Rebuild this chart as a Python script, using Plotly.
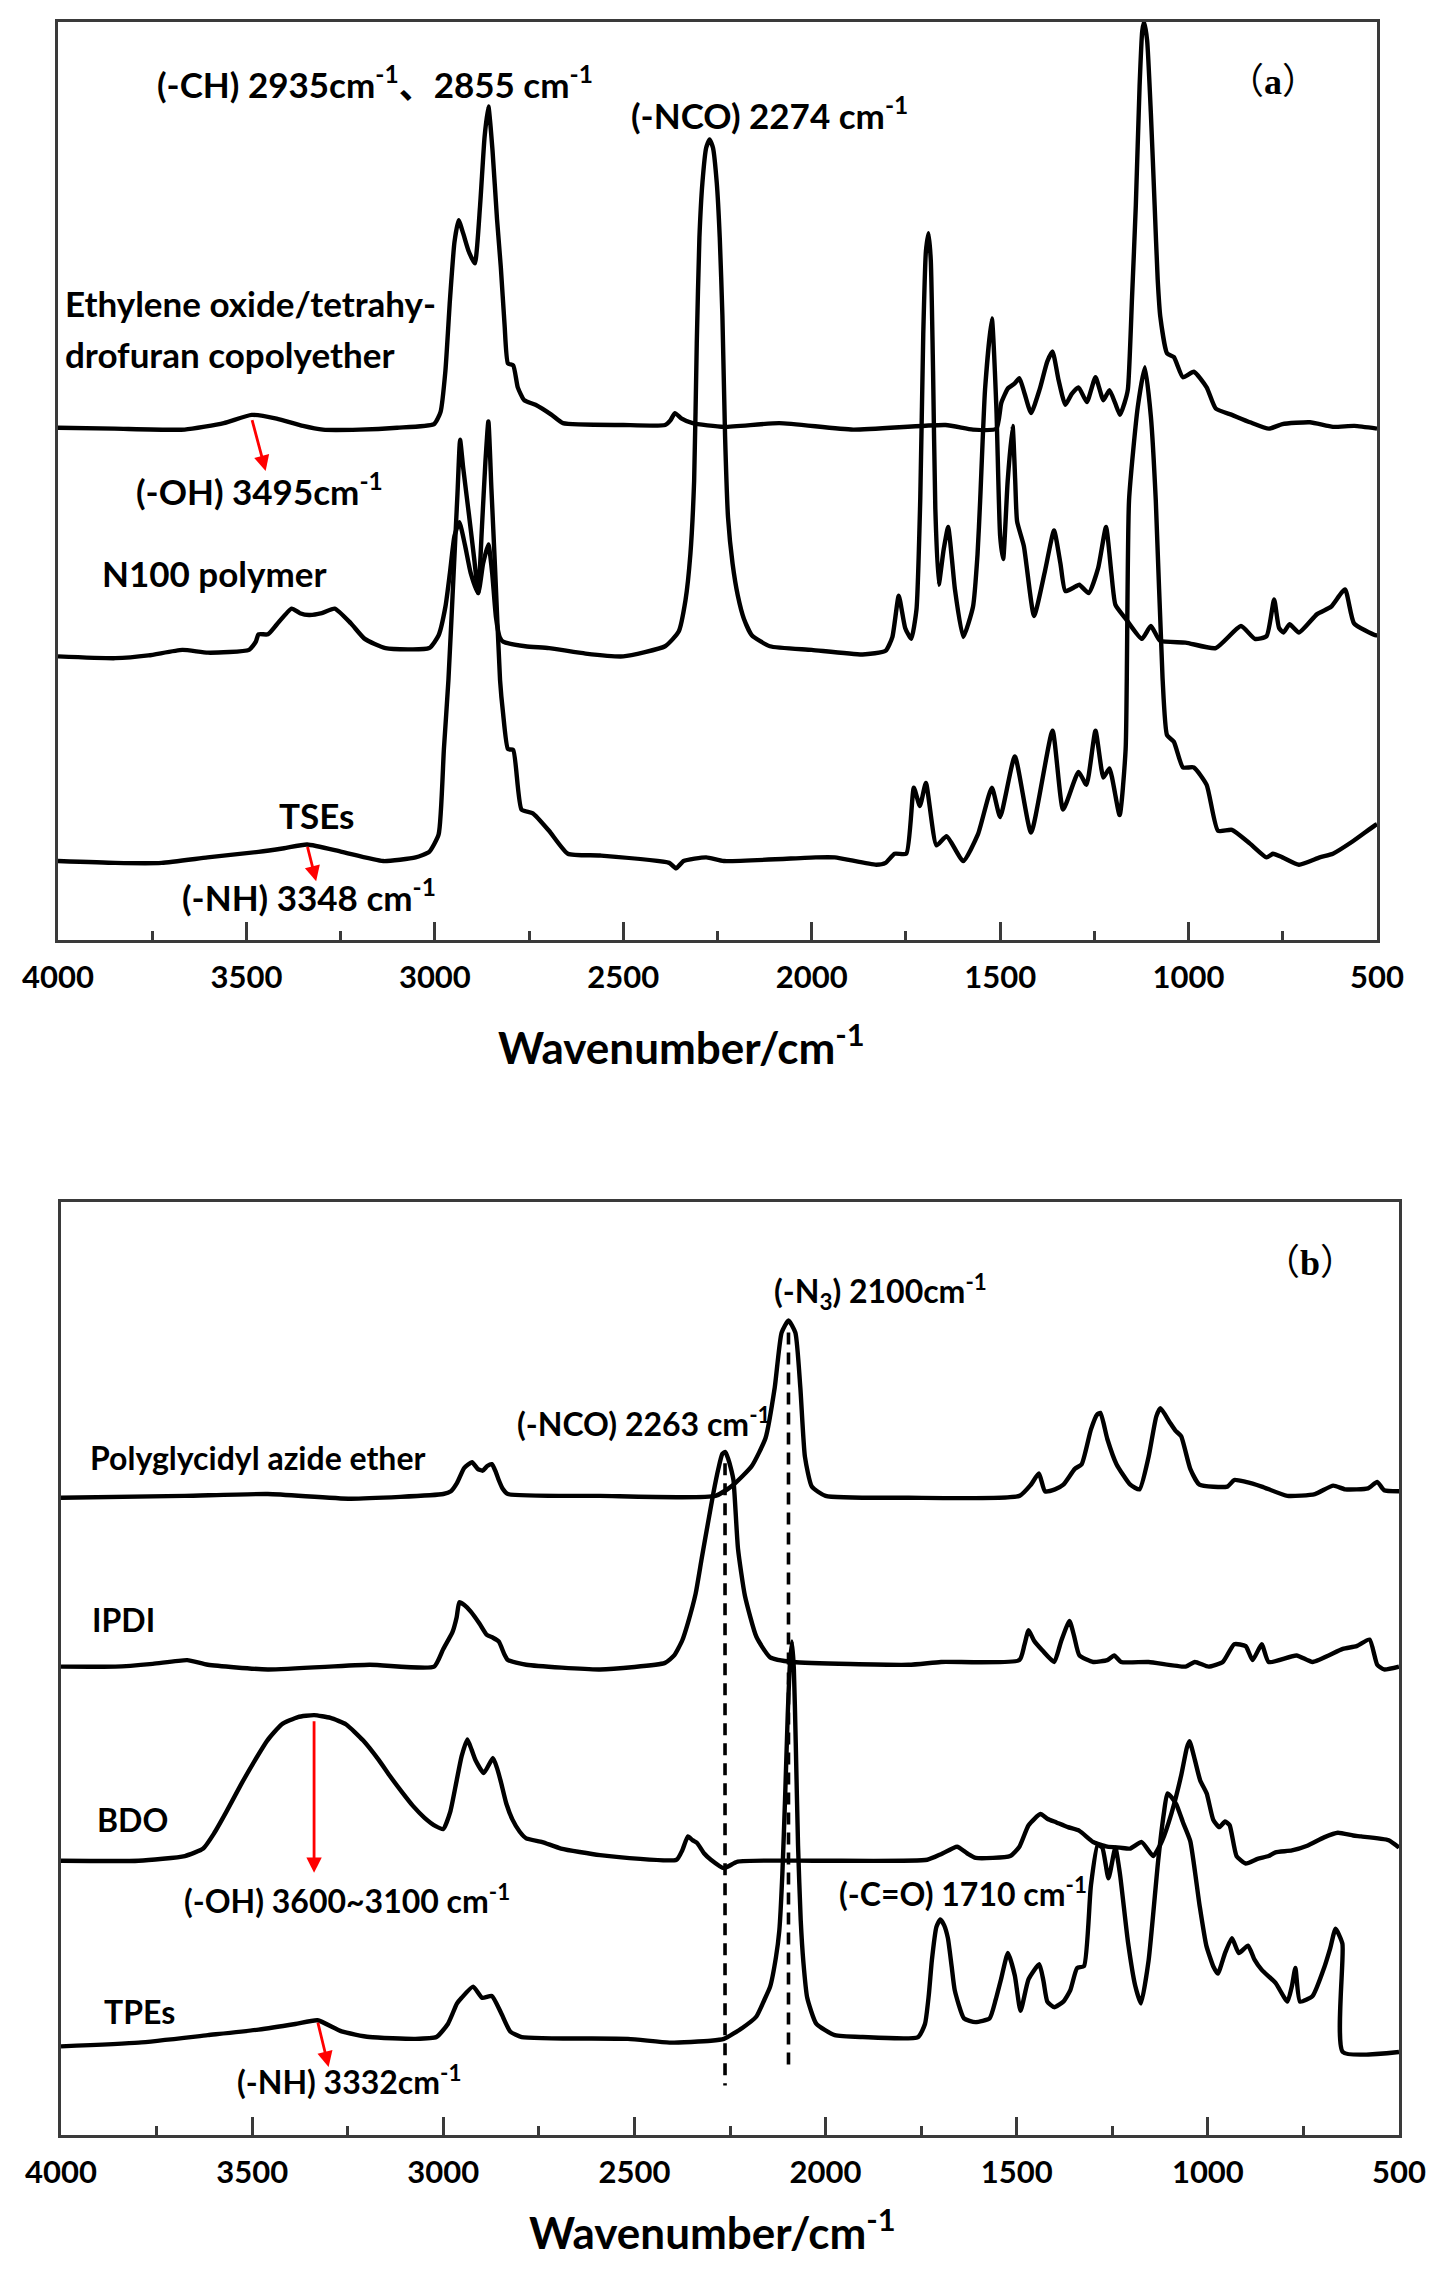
import plotly.graph_objects as go

# page body has an 8px margin: the figure is drawn inside it
PAGE_W, PAGE_H, OFF = 1448, 2284, 8
W, H = PAGE_W - 2 * OFF, PAGE_H - 2 * OFF

# ---------------- Panel (a) data : wavenumber (cm-1) and offset intensity (a.u.) ----------------
copoly_wn = [4000, 3850, 3664, 3560, 3486, 3420, 3350, 3297, 3200, 3100,
             3002, 2985, 2972, 2960, 2948, 2937, 2925, 2910, 2894, 2880,
             2868, 2858, 2847, 2835, 2825, 2815, 2806, 2792, 2780, 2763,
             2733, 2690, 2660, 2500, 2389, 2375, 2363, 2345, 2316, 2233,
             2086, 1890, 1645, 1572, 1510, 1497, 1479, 1462, 1449, 1435,
             1418, 1395, 1375, 1361, 1345, 1327, 1310, 1292, 1270, 1247,
             1226, 1210, 1195, 1182, 1170, 1161, 1150, 1140, 1130, 1123,
             1118, 1110, 1100, 1090, 1082, 1075, 1057, 1039, 1015, 986,
             952, 928, 885, 837, 787, 751, 678, 617, 560, 500]
copoly_y = [55.8, 55.7, 55.6, 56.3, 57.2, 56.8, 56.0, 55.6, 55.6, 55.8,
            56.2, 57.5, 62.0, 69.7, 76.0, 78.4, 77.0, 75.0, 73.7, 80.0,
            87.5, 90.8, 86.0, 78.5, 73.3, 67.0, 62.8, 62.6, 60.2, 58.8,
            58.3, 57.2, 56.3, 56.1, 56.1, 56.6, 57.4, 56.8, 56.3, 55.9,
            56.3, 55.6, 56.1, 55.6, 55.7, 58.5, 60.1, 60.6, 61.2, 59.5,
            57.4, 60.0, 63.0, 64.1, 61.0, 58.3, 59.5, 60.2, 58.6, 61.3,
            58.8, 59.9, 58.5, 57.2, 58.5, 60.0, 70.0, 80.0, 93.0, 99.0,
            100.0, 98.0, 90.0, 80.0, 72.0, 67.9, 63.9, 63.5, 61.3, 61.9,
            60.2, 57.9, 57.2, 56.4, 55.7, 56.2, 56.4, 55.9, 56.0, 55.7]

n100_wn = [4000, 3848, 3760, 3670, 3602, 3493, 3475, 3468, 3443, 3419,
           3380, 3358, 3334, 3300, 3266, 3223, 3186, 3131, 3015, 2990,
           2972, 2960, 2948, 2935, 2920, 2905, 2885, 2872, 2858, 2848,
           2838, 2828, 2819, 2760, 2697, 2600, 2500, 2389, 2353, 2335,
           2322, 2312, 2305, 2298, 2290, 2280, 2271, 2262, 2252, 2244,
           2237, 2230, 2222, 2210, 2196, 2180, 2159, 2111, 2000, 1865,
           1804, 1786, 1769, 1752, 1736, 1722, 1712, 1704, 1697, 1690,
           1684, 1678, 1672, 1663, 1650, 1638, 1628, 1620, 1598, 1572,
           1560, 1553, 1540, 1522, 1510, 1500, 1492, 1480, 1467, 1460,
           1455, 1437, 1410, 1381, 1357, 1340, 1327, 1300, 1290, 1265,
           1240, 1219, 1205, 1194, 1167, 1124, 1100, 1076, 1008, 928,
           861, 824, 793, 773, 760, 748, 732, 707, 659, 622,
           585, 561, 505, 500]
n100_y = [30.9, 30.7, 31.0, 31.6, 31.3, 31.6, 32.5, 33.3, 33.3, 34.4,
          36.1, 35.6, 35.4, 35.6, 36.1, 34.5, 32.8, 31.8, 31.8, 33.2,
          36.3, 40.0, 44.0, 45.5, 43.0, 40.0, 37.8, 41.0, 43.1, 40.0,
          35.2, 33.0, 32.5, 32.0, 31.8, 31.2, 30.9, 32.0, 33.6, 37.0,
          42.0, 50.0, 65.0, 76.5, 82.5, 86.3, 87.2, 86.3, 82.5, 76.5,
          68.0, 55.0, 46.0, 41.0, 37.5, 35.0, 33.2, 32.0, 31.6, 31.1,
          31.5, 33.0, 37.5, 34.0, 32.8, 36.0, 48.0, 66.0, 75.0, 77.0,
          74.0, 62.0, 47.0, 38.7, 42.5, 45.0, 41.5, 38.2, 33.0, 36.3,
          42.0, 47.9, 60.0, 67.7, 58.0, 44.0, 41.5, 50.0, 56.0, 50.0,
          45.6, 42.9, 35.3, 40.2, 44.6, 41.0, 38.0, 38.5, 38.7, 37.8,
          40.5, 45.0, 40.0, 36.5, 35.0, 32.8, 34.2, 32.6, 32.4, 31.8,
          34.2, 32.8, 33.1, 37.1, 34.0, 33.5, 34.4, 33.5, 35.5, 36.3,
          38.2, 34.5, 33.2, 33.2]

tses_wn = [4000, 3848, 3725, 3603, 3468, 3400, 3339, 3247, 3137, 3051,
           3015, 2990, 2976, 2964, 2950, 2940, 2933, 2925, 2910, 2895,
           2885, 2875, 2866, 2858, 2850, 2840, 2827, 2819, 2806, 2792,
           2770, 2740, 2697, 2647, 2562, 2378, 2360, 2340, 2280, 2233,
           1989, 1939, 1829, 1804, 1780, 1749, 1729, 1713, 1697, 1669,
           1642, 1598, 1559, 1522, 1500, 1461, 1418, 1361, 1333, 1292,
           1271, 1247, 1226, 1210, 1183, 1167, 1158, 1135, 1116, 1100,
           1087, 1069, 1057, 1039, 1015, 986, 952, 922, 885, 837,
           793, 776, 751, 707, 652, 617, 566, 505, 500]
tses_y = [8.6, 8.4, 8.4, 9.0, 9.6, 10.0, 10.4, 9.6, 8.6, 9.0,
          9.6, 11.5, 20.8, 28.3, 40.1, 48.6, 54.5, 51.5, 46.5, 41.3,
          37.8, 45.0, 52.0, 56.5, 49.2, 40.3, 28.3, 24.7, 20.8, 20.7,
          14.2, 13.8, 11.9, 9.4, 9.2, 8.4, 7.8, 8.6, 9.0, 8.6,
          9.0, 9.0, 8.2, 8.4, 9.4, 9.4, 16.6, 14.6, 17.1, 10.3,
          11.3, 8.6, 11.5, 16.6, 13.4, 20.0, 11.7, 22.8, 14.2, 18.3,
          16.9, 22.8, 17.7, 18.7, 13.6, 20.8, 47.9, 58.0, 62.4, 57.0,
          47.9, 28.5, 22.3, 21.6, 18.8, 18.8, 16.9, 11.9, 12.0, 10.5,
          9.0, 9.4, 9.0, 8.2, 9.0, 9.4, 10.7, 12.5, 12.6]

# ---------------- Panel (b) data ----------------
pgae_wn = [4000, 3676, 3459, 3242, 3000, 2980, 2964, 2945, 2925, 2910,
           2897, 2885, 2873, 2862, 2855, 2845, 2831, 2590, 2288, 2241,
           2193, 2157, 2133, 2115, 2097, 2079, 2066, 2054, 2036, 2000,
           1783, 1493, 1463, 1442, 1426, 1400, 1378, 1348, 1330, 1306,
           1290, 1281, 1263, 1239, 1203, 1179, 1155, 1135, 1124, 1100,
           1085, 1070, 1046, 1022, 949, 931, 901, 859, 792, 720,
           672, 641, 581, 557, 539, 500]
pgae_y = [68.3, 68.5, 68.7, 68.2, 68.7, 69.0, 69.9, 71.5, 72.1, 71.4,
          71.2, 71.7, 71.9, 71.0, 70.2, 69.3, 68.7, 68.5, 68.5, 69.7,
          71.7, 74.7, 80.1, 86.0, 87.3, 86.0, 80.1, 72.7, 69.5, 68.5,
          68.3, 68.5, 69.7, 70.9, 69.0, 69.2, 69.7, 71.4, 71.9, 75.6,
          77.2, 77.4, 74.6, 71.9, 69.7, 69.2, 72.7, 77.0, 77.9, 76.4,
          75.5, 74.9, 71.4, 69.7, 69.5, 70.2, 70.0, 69.5, 68.5, 68.7,
          69.6, 69.2, 69.3, 70.0, 69.1, 69.0]

ipdi_wn = [4000, 3858, 3760, 3670, 3616, 3459, 3193, 3024, 3000, 2976,
           2965, 2958, 2945, 2928, 2905, 2886, 2870, 2855, 2840, 2831,
           2783, 2590, 2420, 2396, 2375, 2360, 2340, 2324, 2308, 2294,
           2280, 2270, 2262, 2255, 2248, 2241, 2229, 2211, 2181, 2145,
           2085, 1783, 1698, 1493, 1480, 1469, 1455, 1432, 1402, 1384,
           1362, 1350, 1336, 1300, 1263, 1245, 1227, 1155, 1058, 1034,
           998, 961, 931, 901, 883, 859, 841, 768, 726, 647,
           611, 577, 557, 539, 500]
ipdi_y = [50.2, 50.2, 50.5, 50.9, 50.4, 49.9, 50.4, 50.2, 52.1, 53.9,
          55.5, 57.1, 56.8, 56.1, 54.8, 53.6, 53.3, 52.9, 51.5, 50.9,
          50.4, 49.9, 50.6, 51.4, 53.0, 54.9, 58.0, 61.8, 65.5, 68.7,
          71.5, 73.0, 73.2, 72.5, 71.5, 70.2, 62.8, 57.8, 53.4, 51.2,
          50.7, 50.4, 50.7, 50.9, 52.5, 54.1, 53.0, 51.9, 50.7, 52.9,
          55.1, 53.5, 51.4, 50.7, 50.9, 51.4, 50.7, 50.7, 50.2, 50.7,
          50.2, 50.7, 52.6, 52.4, 50.9, 52.6, 50.7, 51.4, 50.7, 52.1,
          52.4, 53.1, 50.4, 49.9, 50.2]

bdo_wn = [4000, 3797, 3676, 3628, 3600, 3568, 3530, 3495, 3460, 3423,
          3380, 3338, 3295, 3254, 3210, 3169, 3140, 3109, 3080, 3049,
          3020, 3000, 2982, 2965, 2952, 2937, 2926, 2916, 2894, 2870,
          2860, 2849, 2835, 2819, 2800, 2783, 2741, 2692, 2590, 2390,
          2375, 2360, 2348, 2336, 2318, 2300, 2266, 2230, 2024, 1734,
          1698, 1656, 1630, 1607, 1517, 1493, 1469, 1438, 1420, 1396,
          1366, 1336, 1300, 1263, 1230, 1203, 1173, 1143, 1120, 1095,
          1070, 1055, 1048, 1034, 1020, 1003, 986, 970, 955, 943,
          925, 901, 870, 841, 823, 780, 740, 696, 660, 620,
          599, 527, 500]
bdo_y = [29.4, 29.4, 29.9, 30.7, 32.3, 34.6, 37.5, 40.0, 42.3, 44.0,
         44.8, 45.0, 44.7, 44.0, 42.3, 40.2, 38.5, 36.8, 35.3, 34.0,
         33.1, 32.8, 34.6, 38.0, 40.6, 42.4, 41.3, 40.2, 38.8, 40.4,
         39.4, 37.8, 35.5, 33.8, 32.5, 31.8, 31.4, 30.7, 30.0, 29.5,
         30.5, 32.0, 31.6, 31.3, 30.2, 29.5, 28.6, 29.3, 29.4, 29.5,
         30.1, 30.9, 30.2, 29.7, 29.9, 30.9, 33.2, 34.4, 33.9, 33.5,
         33.0, 32.6, 31.4, 30.9, 30.8, 30.7, 31.4, 29.9, 31.5, 34.5,
         38.5, 41.5, 42.2, 40.2, 38.0, 36.6, 33.8, 33.0, 33.6, 33.2,
         29.9, 29.1, 29.6, 29.9, 30.3, 30.5, 31.0, 31.9, 32.4, 32.1,
         32.0, 31.6, 30.8]

tpes_wn = [4000, 3797, 3616, 3483, 3387, 3329, 3266, 3193, 3073, 3018,
           2988, 2964, 2952, 2922, 2898, 2873, 2849, 2825, 2795, 2517,
           2408, 2300, 2266, 2217, 2181, 2160, 2145, 2130, 2121, 2113,
           2106, 2099, 2094, 2088, 2083, 2078, 2072, 2065, 2058, 2048,
           2024, 1976, 1903, 1758, 1740, 1730, 1722, 1710, 1700, 1690,
           1680, 1670, 1662, 1638, 1608, 1571, 1555, 1541, 1523, 1505,
           1490, 1469, 1441, 1430, 1420, 1402, 1378, 1360, 1342, 1324,
           1306, 1288, 1276, 1260, 1242, 1230, 1209, 1190, 1175, 1155,
           1130, 1115, 1106, 1095, 1082, 1065, 1046, 1022, 1004, 985,
           974, 955, 937, 919, 895, 878, 859, 823, 792, 780,
           771, 759, 726, 696, 680, 666, 648, 647, 500]
tpes_y = [9.5, 9.9, 10.7, 11.3, 11.9, 12.3, 11.1, 10.5, 10.3, 10.5,
          11.9, 14.1, 14.7, 15.9, 14.7, 14.9, 13.1, 11.1, 10.5, 10.3,
          9.9, 10.1, 10.3, 11.5, 12.7, 14.5, 15.9, 19.0, 21.9, 28.0,
          36.0, 45.0, 50.0, 52.9, 50.0, 42.0, 31.0, 23.0, 18.5, 14.7,
          11.9, 10.7, 10.5, 10.5, 11.9, 15.0, 18.7, 22.3, 23.1, 22.5,
          21.1, 18.0, 15.5, 12.5, 12.1, 12.5, 14.5, 16.7, 19.5, 17.1,
          13.3, 16.7, 18.3, 16.5, 14.3, 13.7, 14.3, 15.5, 17.9, 18.1,
          26.7, 31.1, 30.8, 27.5, 30.8, 28.0, 20.7, 16.0, 14.1, 18.7,
          29.4, 34.5, 36.6, 36.2, 35.4, 33.5, 31.5, 24.7, 20.3, 18.0,
          17.3, 19.5, 21.1, 19.5, 20.3, 18.8, 17.7, 16.3, 14.3, 16.0,
          17.9, 14.3, 14.9, 17.9, 20.0, 22.1, 20.5, 8.9, 8.9]

# reference (dashed) lines in panel (b): wavenumber, top, bottom
ref_nco_wn, ref_nco_y = [2263, 2263], [72.0, 5.3]
ref_n3_wn, ref_n3_y = [2097, 2097], [86.0, 7.3]

# red arrows: (tail wn, tail y, head wn, head y)
arrow_a_oh = (3486, 56.8, 3449, 51.1)
arrow_a_nh = (3339, 10.3, 3315, 6.4)
arrow_b_oh = (3338, 44.5, 3338, 28.1)
arrow_b_nh = (3329, 12.2, 3300, 7.3)

tick_vals = [4000, 3500, 3000, 2500, 2000, 1500, 1000, 500]


def fx(X):  # page pixel -> paper fraction
    return (X - OFF) / W


def fy(Y):
    return 1 - (Y - OFF) / H


# ---------------- figure ----------------
fig = go.Figure()

LINE = dict(color='black', width=4.4, shape='spline', smoothing=0.5)
for wn, yy in [(copoly_wn, copoly_y), (n100_wn, n100_y), (tses_wn, tses_y)]:
    fig.add_trace(go.Scatter(x=wn, y=yy, mode='lines', line=LINE, xaxis='x', yaxis='y',
                             hoverinfo='skip'))
for wn, yy in [(pgae_wn, pgae_y), (ipdi_wn, ipdi_y), (bdo_wn, bdo_y), (tpes_wn, tpes_y)]:
    fig.add_trace(go.Scatter(x=wn, y=yy, mode='lines', line=LINE, xaxis='x2', yaxis='y2',
                             hoverinfo='skip'))
for wn, yy in [(ref_nco_wn, ref_nco_y), (ref_n3_wn, ref_n3_y)]:
    fig.add_trace(go.Scatter(x=wn, y=yy, mode='lines', xaxis='x2', yaxis='y2',
                             line=dict(color='black', width=3.6, dash='12px,8px'), hoverinfo='skip'))

FRAME = '#3a3a3a'
tickfont = dict(family='Lato', size=31, color='black', weight=700)
xcommon = dict(range=[4000, 500], autorange=False, automargin=False, tickmode='array',
               tickvals=tick_vals, ticks='inside', ticklen=18, tickwidth=2.5, tickcolor=FRAME,
               showline=True, linewidth=2.5, linecolor=FRAME, mirror=True,
               showgrid=False, zeroline=False, tickfont=tickfont, ticklabelstandoff=8,
               minor=dict(ticks='inside', ticklen=9, tickwidth=2.5, tickcolor=FRAME,
                          tickmode='linear', tick0=250, dtick=500, showgrid=False))
ycommon = dict(range=[0, 100], autorange=False, automargin=False, showline=True, linewidth=2.5,
               linecolor=FRAME, mirror=True, showgrid=False, zeroline=False,
               showticklabels=False, ticks='')

fig.update_layout(
    template='none',
    width=W, height=H, margin=dict(l=0, r=0, t=0, b=0, pad=0), autosize=False,
    paper_bgcolor='white', plot_bgcolor='white', showlegend=False,
    xaxis=dict(domain=[fx(58), fx(1377)], anchor='y', **xcommon),
    yaxis=dict(domain=[fy(940), fy(22)], anchor='x', **ycommon),
    xaxis2=dict(domain=[fx(61), fx(1399)], anchor='y2', **xcommon),
    yaxis2=dict(domain=[fy(2135), fy(1202)], anchor='x2', **ycommon),
)

FAM = "Lato, 'Noto Sans CJK SC', sans-serif"
SERIF = "'Liberation Serif', 'Noto Sans CJK SC', serif"


def label(text, X, Y, size, anchor='left', family=FAM):
    fig.add_annotation(text=text, x=fx(X), y=fy(Y), xref='paper', yref='paper',
                       xanchor=anchor, yanchor='middle', showarrow=False,
                       font=dict(family=family, size=size, color='black'))


SA, SB = 35, 32
# panel (a) labels
label('<b>(-CH) 2935cm<sup>-1</sup>、2855 cm<sup>-1</sup></b>', 155, 82, SA)
label('<b>(-NCO) 2274 cm<sup>-1</sup></b>', 629, 113, SA)
label('（<b>a</b>）', 1273, 82, 36, anchor='center', family=SERIF)
label('<b>Ethylene oxide/tetrahy-</b>', 63, 303, SA)
label('<b>drofuran copolyether</b>', 63, 354, SA)
label('<b>(-OH) 3495cm<sup>-1</sup></b>', 134, 489, SA)
label('<b>N100 polymer</b>', 100, 573, SA)
label('<b>TSEs</b>', 277, 815, SA)
label('<b>(-NH) 3348 cm<sup>-1</sup></b>', 180, 895, SA)
label('<b>Wavenumber/cm<sup>-1</sup></b>', 681, 1044, 44, anchor='center')

# panel (b) labels
label('<b>Polyglycidyl azide ether</b>', 88, 1457, SB)
label('<b>IPDI</b>', 90, 1619, SB)
label('<b>BDO</b>', 95, 1819, SB)
label('<b>(-NCO) 2263 cm<sup>-1</sup></b>', 515, 1422, SB)
label('<b>(-N<sub>3</sub>) 2100cm<sup>-1</sup></b>', 772, 1291, SB)
label('（<b>b</b>）', 1310, 1263, 36, anchor='center', family=SERIF)
label('<b>(-OH) 3600~3100 cm<sup>-1</sup></b>', 182, 1899, SB)
label('<b>TPEs</b>', 102, 2011, SB)
label('<b>(-NH) 3332cm<sup>-1</sup></b>', 235, 2080, SB)
label('<b>(-C=O) 1710 cm<sup>-1</sup></b>', 837, 1892, SB)
label('<b>Wavenumber/cm<sup>-1</sup></b>', 712, 2229, 44, anchor='center')


def arrow(a, xr, yr):
    tx, ty, hx, hy = a
    fig.add_annotation(x=hx, y=hy, ax=tx, ay=ty, xref=xr, yref=yr, axref=xr, ayref=yr,
                       text='', showarrow=True, arrowhead=2, arrowsize=1.1, arrowwidth=2.8,
                       arrowcolor='#ff0000', standoff=0, startstandoff=0)


arrow(arrow_a_oh, 'x', 'y')
arrow(arrow_a_nh, 'x', 'y')
arrow(arrow_b_oh, 'x2', 'y2')
arrow(arrow_b_nh, 'x2', 'y2')

fig.write_html('out.html')
